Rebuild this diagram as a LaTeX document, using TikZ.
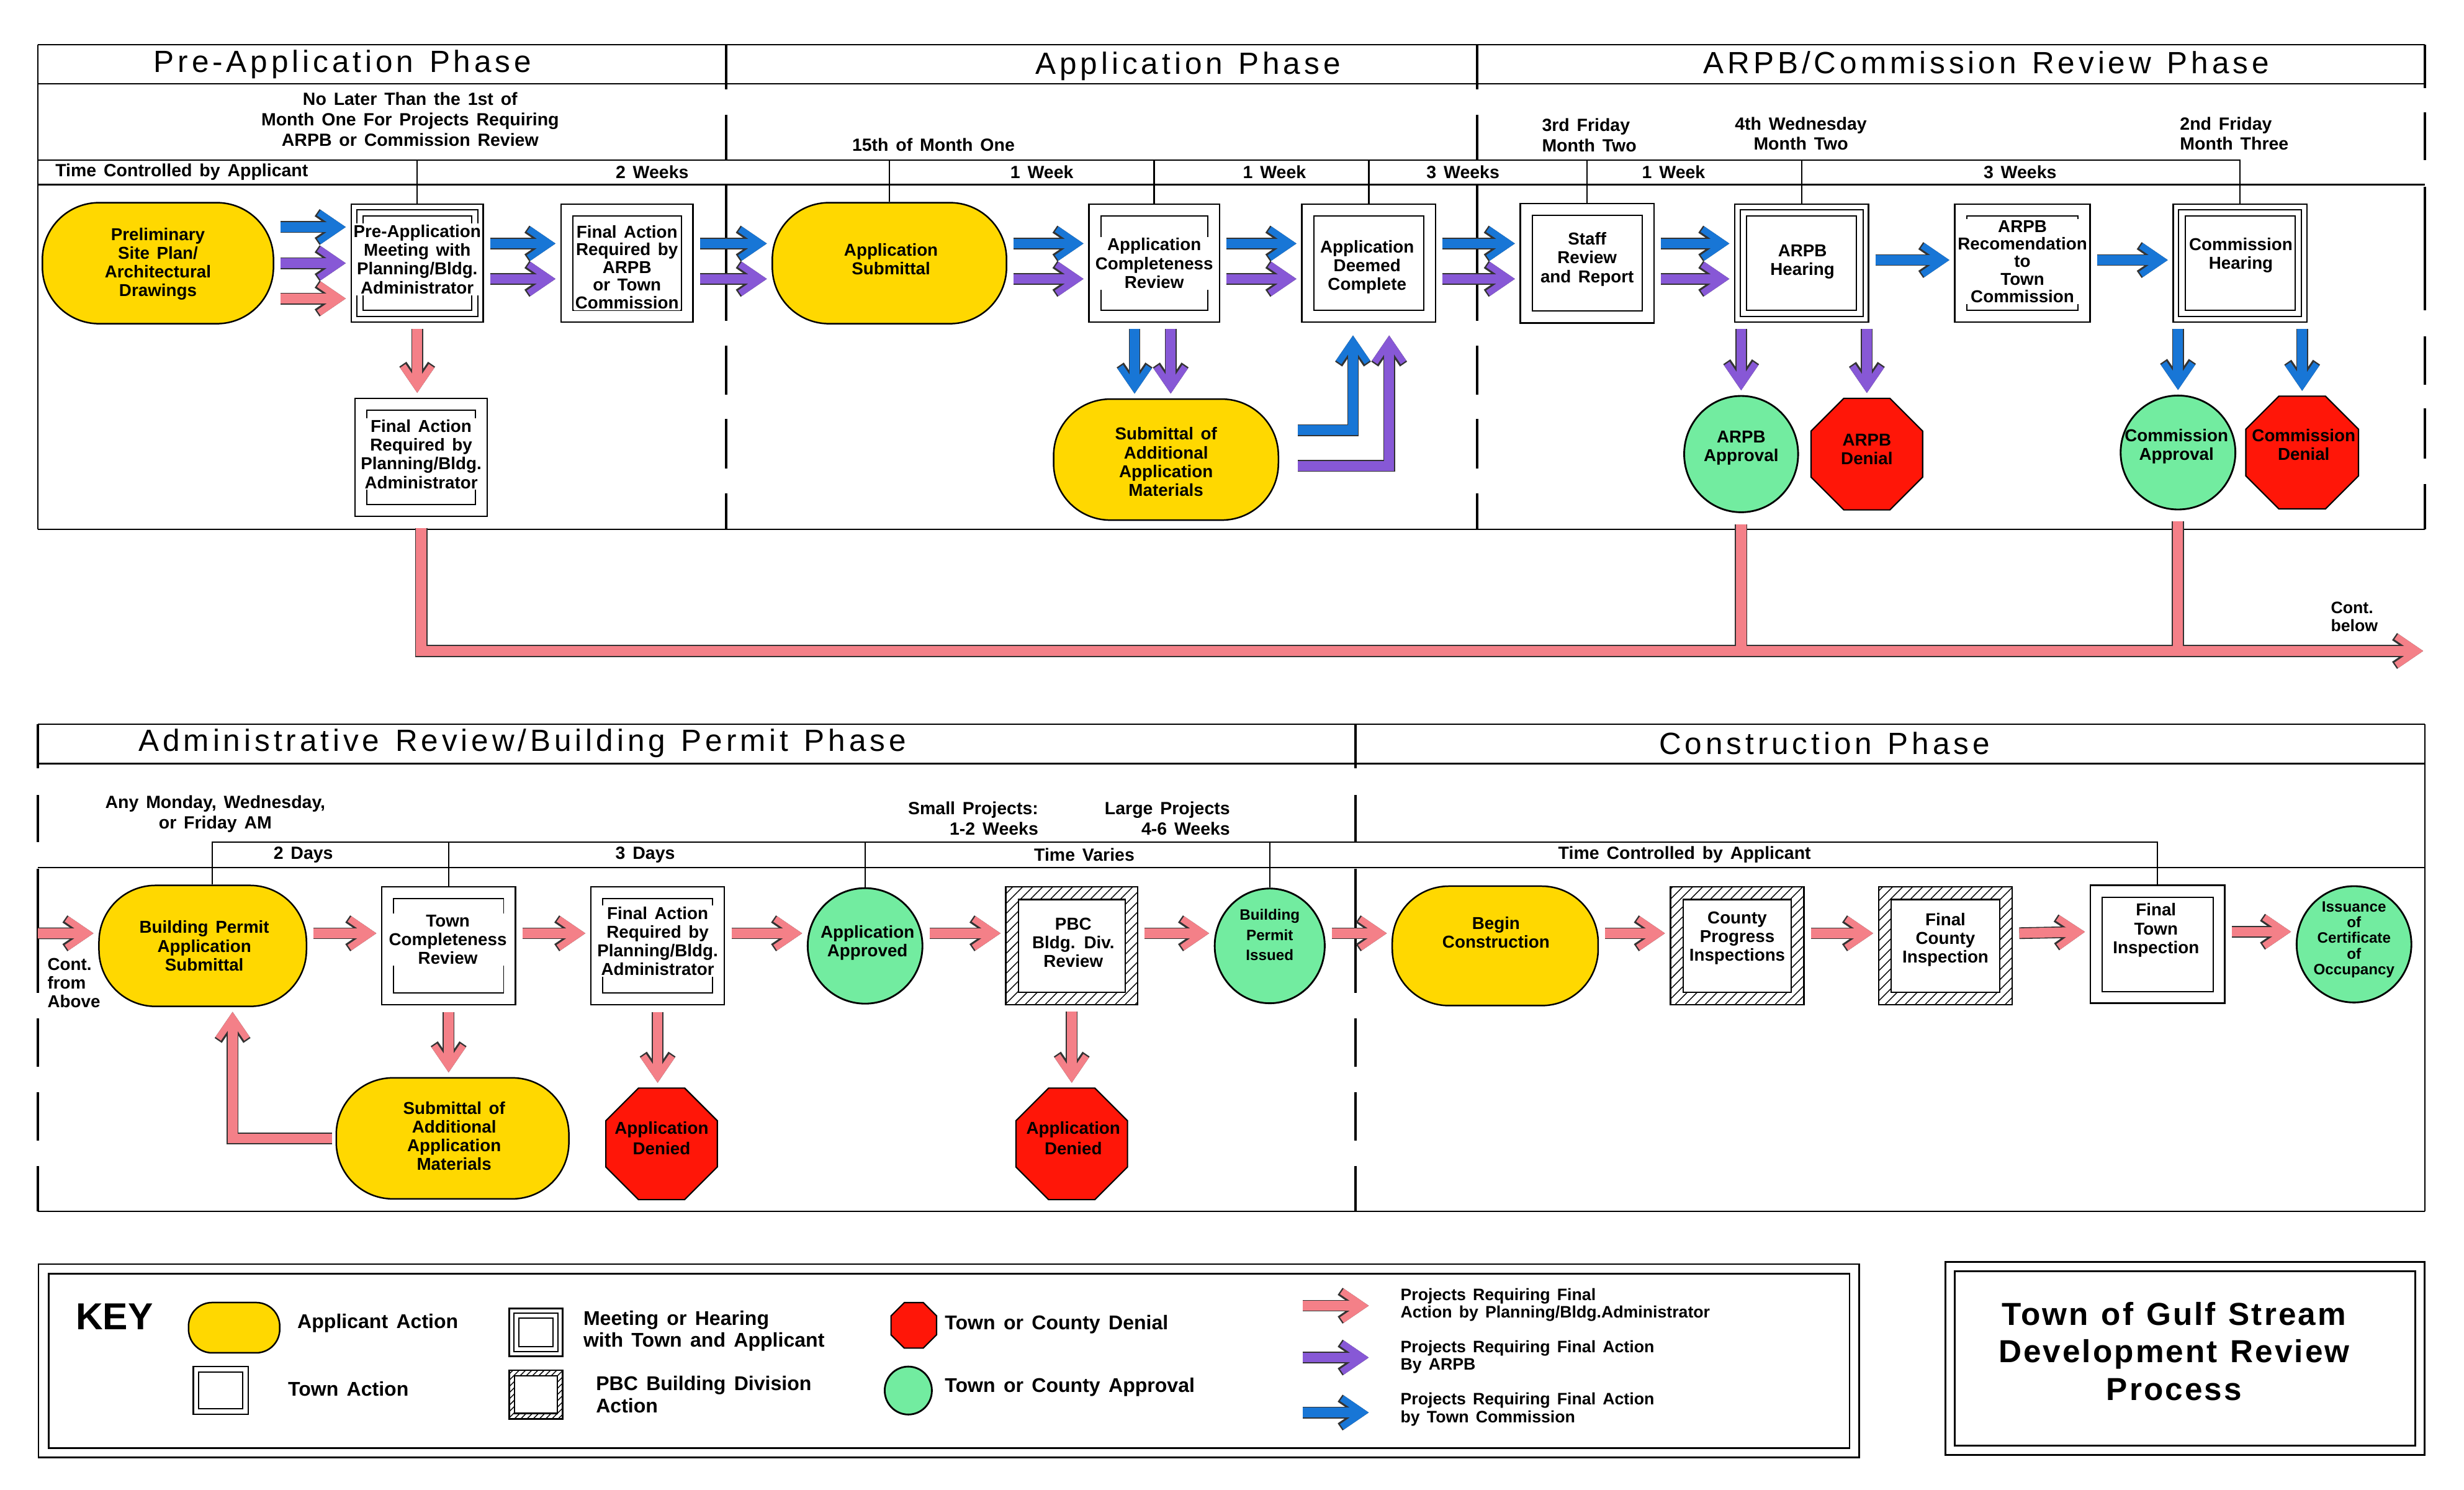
\documentclass[tikz,border=0pt]{standalone}
\usepackage{fontspec}
\setmainfont{Liberation Sans}[WordSpace=1.5]
\newfontfamily\phasefont{Liberation Sans}[LetterSpace=12,WordSpace=1.3]
\newfontfamily\boxtitlefont{Liberation Sans}[LetterSpace=6,WordSpace=1.2]
\usetikzlibrary{arrows.meta,shapes.geometric,patterns.meta}
\definecolor{apink}{RGB}{244,128,136}
\definecolor{apurple}{RGB}{135,88,214}
\definecolor{ablue}{RGB}{24,118,214}
\definecolor{ayellow}{RGB}{255,216,0}
\definecolor{agreen}{RGB}{114,236,160}
\definecolor{ared}{RGB}{255,22,8}
\tikzset{
  frm/.style={line width=0.6pt},
  divider/.style={line width=1.2pt},
  tickln/.style={line width=0.7pt},
  txt/.style={font={\bfseries\fontsize{7.8}{8.5}\selectfont}, align=center, inner sep=0.6pt},
  txtw/.style={txt, fill=white},
  tight/.style={font={\bfseries\fontsize{7.8}{8}\selectfont}},
  lbl/.style={font={\bfseries\fontsize{8}{9.2}\selectfont}, align=center, inner sep=0pt},
  phase/.style={font={\phasefont\fontsize{13.9}{16}\selectfont}, inner sep=0pt},
  keytxt/.style={font={\bfseries\fontsize{9}{10}\selectfont}, align=left, inner sep=0pt, anchor=west},
  keysm/.style={font={\bfseries\fontsize{7.5}{7.9}\selectfont}, align=left, inner sep=0pt, anchor=west},
  town/.style n args={3}{draw, line width=0.7pt, fill=white, inner sep=0pt,
    minimum width=#1, minimum height=#2,
    path picture={\draw[line width=0.55pt] ([shift={(#3,-#3)}]path picture bounding box.north west) rectangle ([shift={(-#3,#3)}]path picture bounding box.south east);}},
  meeting/.style n args={4}{draw, line width=0.7pt, fill=white, inner sep=0pt,
    minimum width=#1, minimum height=#2,
    path picture={\draw[line width=0.55pt] ([shift={(#3,-#3)}]path picture bounding box.north west) rectangle ([shift={(-#3,#3)}]path picture bounding box.south east);
      \draw[line width=0.55pt] ([shift={(#4,-#4)}]path picture bounding box.north west) rectangle ([shift={(-#4,#4)}]path picture bounding box.south east);}},
  pbcbox/.style n args={4}{draw, line width=0.7pt, inner sep=0pt,
    minimum width=#1, minimum height=#2,
    pattern={Lines[angle=45,distance=#4,line width=0.4pt]},
    path picture={\draw[line width=0.6pt, fill=white] ([shift={(#3,-#3)}]path picture bounding box.north west) rectangle ([shift={(-#3,#3)}]path picture bounding box.south east);}},
  appl/.style n args={3}{draw, line width=0.7pt, fill=ayellow, inner sep=0pt,
    minimum width=#1, minimum height=#2, rounded corners=#3},
  approve/.style 2 args={ellipse, draw, line width=0.8pt, fill=agreen, inner sep=0pt,
    minimum width=#1, minimum height=#2},
  deny/.style={regular polygon, regular polygon sides=8, draw, line width=0.6pt,
    fill=ared, inner sep=0pt, minimum size=#1},
  arrbase/.style={line width=4.4pt, line join=miter, shorten <=0.1cm, shorten >=0.075cm,
    -{Straight Barb[length=9.5pt,width=13pt,line width=3pt]}},
  arrout/.style={draw=black!80, line width=5.3pt,
    -{Straight Barb[length=9.5pt,width=13pt,line width=3.9pt]}},
  parr/.style={arrbase, draw=apink, preaction={arrout}},
  uarr/.style={arrbase, draw=apurple, preaction={arrout}},
  barr/.style={arrbase, draw=ablue, preaction={arrout}},
  plineout/.style={draw=black!80, line width=5.6pt, line join=miter, shorten <=0.175cm},
  pline/.style={draw=apink, line width=4.6pt, line join=miter, shorten <=0.175cm},
}
\begin{document}
\begin{tikzpicture}[x=0.025cm,y=-0.025cm]
\useasboundingbox (0,0) rectangle (1568,948);

% ---------- top section frame ----------
\draw[frm] (24,28.4) -- (1543,28.4);
\draw[frm] (24,53.4) -- (1543,53.4);
\draw[frm] (24,117.5) -- (1543,117.5);
\draw[frm] (24,337) -- (1543,337);
\draw[frm] (24,28.4) -- (24,337);
\foreach \x in {462,940}
  \foreach \a/\b in {28.4/57, 73/101.5, 118/204, 220/251, 266.5/298, 314/337}
    \draw[divider] (\x,\a) -- (\x,\b);
\foreach \a/\b in {28.4/56, 71.5/102, 119/197.5, 214/245, 260/292, 308/337}
  \draw[divider] (1543,\a) -- (1543,\b);

% ---------- bottom section frame ----------
\draw[frm] (24,461) -- (1543,461);
\draw[frm] (24,486) -- (1543,486);
\draw[frm] (24,552) -- (1543,552);
\draw[frm] (24,771) -- (1543,771);
\draw[frm] (1543,461) -- (1543,771);
\foreach \x in {24,862.6}
  \foreach \a/\b in {461/489, 506/536, 553/632, 648/679, 695/726, 742/771}
    \draw[divider] (\x,\a) -- (\x,\b);

% ---------- key and title frames ----------
\draw[line width=0.8pt] (24.5,804.5) rectangle (1183,927.5);
\draw[line width=0.8pt] (31,810.5) rectangle (1177,921.5);
\draw[line width=0.8pt] (1238,803) rectangle (1543,926);
\draw[line width=0.8pt] (1244,809) rectangle (1537,920);

% ---------- top nodes ----------
\node[appl={3.675cm}{1.925cm}{0.9cm}] (prelim) at (100.5,167.5) {};
\node[meeting={2.1cm}{1.875cm}{0.0875cm}{0.1875cm}] (premeet) at (265.5,167.5) {};
\node[town={2.1cm}{1.875cm}{0.1875cm}] (fab) at (399,167.5) {};
\node[town={2.1cm}{1.875cm}{0.1875cm}] (fap) at (268,291) {};
\node[appl={3.725cm}{1.925cm}{0.9cm}] (appsub) at (566,167.5) {};
\node[town={2.075cm}{1.875cm}{0.1875cm}] (comp) at (734.5,167.5) {};
\node[town={2.125cm}{1.875cm}{0.1875cm}] (deemed) at (871,167.5) {};
\node[appl={3.575cm}{1.925cm}{0.9cm}] (addl) at (742,292.5) {};
\node[town={2.125cm}{1.9cm}{0.1875cm}] (staff) at (1010,167.5) {};
\node[meeting={2.125cm}{1.875cm}{0.0875cm}{0.1875cm}] (arpbh) at (1146.5,167.5) {};
\node[town={2.15cm}{1.875cm}{0.1875cm}] (reco) at (1287,167.5) {};
\node[meeting={2.125cm}{1.875cm}{0.0875cm}{0.1875cm}] (commh) at (1425.5,167.5) {};
\node[approve={1.8125cm}{1.85cm}] (arpba) at (1108,289) {};
\node[deny=1.92cm] (arpbd) at (1188,289) {};
\node[approve={1.825cm}{1.8125cm}] (comma) at (1386,288) {};
\node[deny=1.94cm] (commd) at (1465,288) {};

% ---------- bottom nodes ----------
\node[appl={3.3cm}{1.925cm}{0.9cm}] (bpas) at (129,602) {};
\node[town={2.125cm}{1.875cm}{0.1875cm}] (tcr) at (285.5,602) {};
\node[town={2.125cm}{1.875cm}{0.1875cm}] (far) at (418.5,602) {};
\node[appl={3.7cm}{1.925cm}{0.9cm}] (addl2) at (288,724.5) {};
\node[deny=1.92cm] (den1) at (421,728) {};
\node[approve={1.825cm}{1.8375cm}] (aa) at (550.5,602) {};
\node[pbcbox={2.1cm}{1.875cm}{0.2cm}{3.2pt}] (pbc) at (682,602) {};
\node[deny=1.92cm] (den2) at (682,728) {};
\node[approve={1.75cm}{1.825cm}] (bpi) at (808,602) {};
\node[appl={3.275cm}{1.9cm}{0.9cm}] (bc) at (951.5,602) {};
\node[pbcbox={2.125cm}{1.875cm}{0.2cm}{3.2pt}] (cpi) at (1105.5,602) {};
\node[pbcbox={2.125cm}{1.875cm}{0.2cm}{3.2pt}] (fci) at (1238,602) {};
\node[town={2.1375cm}{1.875cm}{0.1875cm}] (fti) at (1373,601) {};
\node[approve={1.825cm}{1.85cm}] (ico) at (1498,601) {};

% ---------- timeline ticks ----------
\coordinate (ttop) at (24,102);
\coordinate (btop) at (24,536);
\draw[frm] (ttop) -- (commh.north |- ttop) -- (commh.north);
\foreach \n in {premeet,appsub,comp,deemed,staff,arpbh}
  \draw[tickln] (\n.north) -- (\n.north |- ttop);
\coordinate (bt1) at ([xshift=0.15cm]bpas.north);
\draw[frm] (bt1) |- (fti.north |- btop) -- (fti.north);
\foreach \n in {tcr,aa,bpi}
  \draw[tickln] (\n.north) -- (\n.north |- btop);

% ---------- header texts ----------
\node[phase] (t1) at (218,41) {Pre-Application Phase};
\node[phase] (t2) at (756,42) {Application Phase};
\node[phase] (t3) at (1264,40) {ARPB/Commission Review Phase};
\node[phase] (t4) at (332.5,473) {Administrative Review/Building Permit Phase};
\node[phase] (t5) at (1161,473) {Construction Phase};

\node[lbl] (d1) at (261,76) {No Later Than the 1st of\\Month One For Projects Requiring\\ARPB or Commission Review};
\node[lbl] (d2) at (594,92) {15th of Month One};
\node[lbl, align=left, anchor=west] (d3) at (981,86) {3rd Friday\\Month Two};
\node[lbl] (d4) at (1146,85) {4th Wednesday\\Month Two};
\node[lbl, align=left, anchor=west] (d5) at (1387,85) {2nd Friday\\Month Three};

\node[lbl, anchor=west] (w0) at (35,109.5) {Time Controlled by Applicant};
\node[lbl] (w1) at (415,109.5) {2 Weeks};
\node[lbl] (w2) at (663,109.5) {1 Week};
\node[lbl] (w3) at (811,109.5) {1 Week};
\node[lbl] (w4) at (931,109.5) {3 Weeks};
\node[lbl] (w5) at (1065,109.5) {1 Week};
\node[lbl] (w6) at (1285.5,109.5) {3 Weeks};

\node[lbl] (d6) at (137,518) {Any Monday, Wednesday,\\or Friday AM};
\node[lbl, align=right, anchor=east] (d7) at (661,521) {Small Projects:\\1-2 Weeks};
\node[lbl, align=right, anchor=east] (d8) at (783,521) {Large Projects\\4-6 Weeks};
\node[lbl] (w7) at (193,544) {2 Days};
\node[lbl] (w8) at (410.6,544) {3 Days};
\node[lbl] (w9) at (690,544) {Time Varies};
\node[lbl] (w10) at (1072,544) {Time Controlled by Applicant};

\node[lbl, align=left, anchor=west, font={\bfseries\fontsize{7.5}{8.3}\selectfont}] (cbelow) at (1483,392.5) {Cont.\\below};
\node[lbl, align=left, anchor=west, font={\bfseries\fontsize{7.8}{8.5}\selectfont}] (cabove) at (30,625.6) {Cont.\\from\\Above};

% ---------- node texts ----------
\node[txt] (prelim-t) at (100.5,168) {Preliminary\\Site Plan/\\Architectural\\Drawings};
\node[txtw] (premeet-t) at (265.5,165) {Pre-Application\\Meeting with\\Planning/Bldg.\\Administrator};
\node[txtw, tight] (fab-t) at (399,170) {Final Action\\Required by\\ARPB\\or Town\\Commission};
\node[txtw] (fap-t) at (268,289) {Final Action\\Required by\\Planning/Bldg.\\Administrator};
\node[txt] (appsub-t) at (567,165) {Application\\Submittal};
\node[txtw] (comp-t) at (734.5,167.5) {Application\\Completeness\\Review};
\node[txtw] (deemed-t) at (870,170) {Application\\Deemed\\Complete};
\node[txt] (addl-t) at (742,294) {Submittal of\\Additional\\Application\\Materials};
\node[txtw] (staff-t) at (1010,165) {Staff\\Review\\and Report};
\node[txtw] (arpbh-t) at (1147,166.5) {ARPB\\Hearing};
\node[txtw, tight] (reco-t) at (1287,166.5) {ARPB\\Recomendation\\to\\Town\\Commission};
\node[txtw] (commh-t) at (1426,162.5) {Commission\\Hearing};
\node[txt] (arpba-t) at (1108,285) {ARPB\\Approval};
\node[txt] (arpbd-t) at (1188,286) {ARPB\\Denial};
\node[txt] (comma-t) at (1385,284) {Commission\\Approval};
\node[txt] (commd-t) at (1466,283) {Commission\\Denial};

\node[txt] (bpas-t) at (130,602) {Building Permit\\Application\\Submittal};
\node[txtw] (tcr-t) at (285,598) {Town\\Completeness\\Review};
\node[txtw] (far-t) at (418.5,599) {Final Action\\Required by\\Planning/Bldg.\\Administrator};
\node[txt] (addl2-t) at (289,723) {Submittal of\\Additional\\Application\\Materials};
\node[txt, font={\bfseries\fontsize{7.8}{9.2}\selectfont}] (den1-t) at (421,724.5) {Application\\Denied};
\node[txt] (aa-t) at (552,600) {Application\\Approved};
\node[txt] (pbc-t) at (683,600) {PBC\\Bldg. Div.\\Review};
\node[txt, font={\bfseries\fontsize{7.8}{9.2}\selectfont}] (den2-t) at (683,724.5) {Application\\Denied};
\node[txt, font={\bfseries\fontsize{6.8}{9.2}\selectfont}] (bpi-t) at (808,595) {Building\\Permit\\Issued};
\node[txt] (bc-t) at (952,593.5) {Begin\\Construction};
\node[txt] (cpi-t) at (1105.5,597) {County\\Progress\\Inspections};
\node[txt] (fci-t) at (1238,598) {Final\\County\\Inspection};
\node[txt] (fti-t) at (1372,592) {Final\\Town\\Inspection};
\node[txt, font={\bfseries\fontsize{6.8}{7.1}\selectfont}] (ico-t) at (1498,598) {Issuance\\of\\Certificate\\of\\Occupancy};

% ---------- top arrows ----------
\draw[barr] ([yshift=0.575cm]prelim.east) -- ([yshift=0.575cm]premeet.west);
\draw[uarr] (prelim.east) -- (premeet.west);
\draw[parr] ([yshift=-0.5625cm]prelim.east) -- ([yshift=-0.5625cm]premeet.west);
\foreach \a/\b in {premeet/fab, fab/appsub, appsub/comp, comp/deemed, deemed/staff, staff/arpbh} {
  \draw[barr] ([yshift=0.3125cm]\a.east) -- ([yshift=0.3125cm]\b.west);
  \draw[uarr] ([yshift=-0.25cm]\a.east) -- ([yshift=-0.25cm]\b.west);
}
\draw[barr] ([yshift=0.05cm]arpbh.east) -- ([yshift=0.05cm]reco.west);
\draw[barr] ([yshift=0.05cm]reco.east) -- ([yshift=0.05cm]commh.west);
\draw[parr] (premeet.south) -- (premeet.south |- fap.north);
\coordinate (cb1) at ([xshift=-0.3125cm]comp.south);
\coordinate (cu1) at ([xshift=0.2625cm]comp.south);
\draw[barr] (cb1) -- (cb1 |- addl.north);
\draw[uarr] (cu1) -- (cu1 |- addl.north);
\coordinate (cb2) at ([xshift=-0.25cm]deemed.south);
\coordinate (cu2) at ([xshift=0.325cm]deemed.south);
\draw[barr, shorten <=0.3cm, shorten >=0.2cm] ([yshift=0.4675cm]addl.east) -| (cb2);
\draw[uarr, shorten <=0.3cm, shorten >=0.2cm] ([yshift=-0.1cm]addl.east) -| (cu2);
\draw[uarr] (arpbh.south -| arpba.north) -- (arpba.north);
\draw[uarr] (arpbh.south -| arpbd.north) -- (arpbd.north);
\draw[barr] (commh.south -| comma.north) -- (comma.north);
\draw[barr] (commh.south -| commd.north) -- (commd.north);

% ---------- long continuation connector ----------
\coordinate (contend) at (1542,414.3);
\draw[plineout, -{Straight Barb[length=9.5pt,width=13pt,line width=3.9pt]}] (fap.south) |- (contend);
\draw[plineout] (arpba.south) -- (arpba.south |- contend);
\draw[plineout] (comma.south) -- (comma.south |- contend);
\draw[pline, -{Straight Barb[length=9.5pt,width=13pt,line width=3pt]}] (fap.south) |- (contend);
\draw[pline] (arpba.south) -- (arpba.south |- contend);
\draw[pline] (comma.south) -- (comma.south |- contend);

% ---------- bottom arrows ----------
\coordinate (contin) at (24,594);
\draw[parr, shorten <=0pt] (contin) -- ([yshift=0.2cm]bpas.west);
\foreach \a/\b in {bpas/tcr, tcr/far, far/aa, aa/pbc, pbc/bpi, bpi/bc, bc/cpi, cpi/fci, fci/fti, fti/ico}
  \draw[parr] ([yshift=0.2cm]\a.east) -- ([yshift=0.2cm]\b.west);
\draw[parr] (tcr.south) -- (tcr.south |- addl2.north);
\draw[parr] (far.south) -- (far.south |- den1.north);
\draw[parr] (pbc.south) -- (pbc.south |- den2.north);
\coordinate (lp) at ([xshift=0.475cm]bpas.south);
\draw[parr, shorten <=0.05cm] (addl2.west) -| (lp);

% ---------- key ----------
\node[font={\bfseries\fontsize{17}{18}\selectfont}, inner sep=0pt, anchor=west] (key) at (48,838) {KEY};
\node[appl={1.45cm}{0.8cm}{0.375cm}] (ki1) at (149,845) {};
\node[town={0.875cm}{0.76cm}{0.0875cm}] (ki2) at (140.5,885) {};
\node[meeting={0.85cm}{0.76cm}{0.075cm}{0.15cm}] (ki3) at (341,848) {};
\node[pbcbox={0.85cm}{0.775cm}{0.0875cm}{2pt}] (ki4) at (341,887.5) {};
\node[deny=0.785cm] (ki5) at (581.5,843.5) {};
\node[approve={0.75cm}{0.7625cm}] (ki6) at (578,885) {};
\node[keytxt] (kt1) at (189,842) {Applicant Action};
\node[keytxt] (kt2) at (183,884) {Town Action};
\node[keytxt] (kt3) at (371,847) {Meeting or Hearing\\with Town and Applicant};
\node[keytxt] (kt4) at (379,887.5) {PBC Building Division\\Action};
\node[keytxt] (kt5) at (601,843) {Town or County Denial};
\node[keytxt] (kt6) at (601,883) {Town or County Approval};
\coordinate (ka1) at (829,831); \coordinate (kb1) at (871,831);
\coordinate (ka2) at (829,864); \coordinate (kb2) at (871,864);
\coordinate (ka3) at (829,899); \coordinate (kb3) at (871,899);
\draw[parr, shorten <=0pt, shorten >=0pt] (ka1) -- (kb1);
\draw[uarr, shorten <=0pt, shorten >=0pt] (ka2) -- (kb2);
\draw[barr, shorten <=0pt, shorten >=0pt] (ka3) -- (kb3);
\node[keysm] (kt7) at (891,830.5) {Projects Requiring Final\\Action by Planning/Bldg.Administrator};
\node[keysm] (kt8) at (891,863.5) {Projects Requiring Final Action\\By ARPB};
\node[keysm] (kt9) at (891,897) {Projects Requiring Final Action\\by Town Commission};

% ---------- title ----------
\node[font={\boxtitlefont\bfseries\fontsize{14.4}{17}\selectfont}, align=center, inner sep=0pt] (ttl) at (1383.5,860) {Town of Gulf Stream\\Development Review\\Process};
\end{tikzpicture}
\end{document}
